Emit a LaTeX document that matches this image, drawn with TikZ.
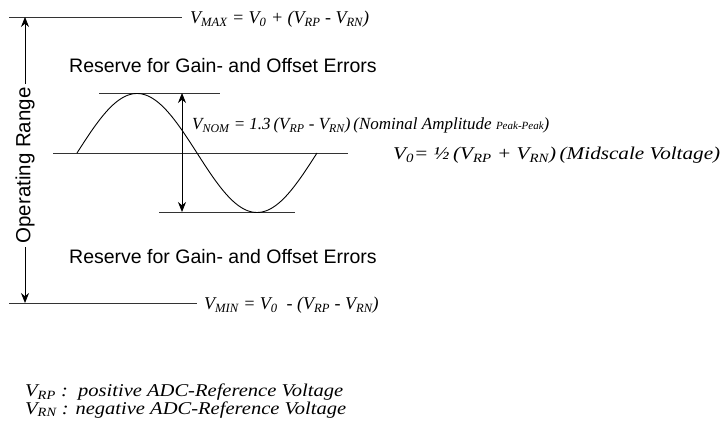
\documentclass[tikz,border=0pt]{standalone}
\usepackage{fontspec}
\setmainfont{Liberation Serif}
\setsansfont{Liberation Sans}
\usetikzlibrary{arrows.meta}
\newcommand\sbs[1]{\textsubscript{#1}}
\begin{document}
\begin{tikzpicture}[x=1pt,y=-1pt,
  lbl/.style={font=\itshape\fontsize{18}{20}\selectfont, inner sep=0pt},
  nom/.style={font=\itshape\fontsize{17}{19}\selectfont, inner sep=0pt},
  leg/.style={font=\itshape\fontsize{18}{20}\selectfont, inner sep=0pt},
  sans/.style={font=\sffamily\fontsize{19.5}{22}\selectfont, inner sep=0pt},
  ln/.style={line width=0.9pt, draw=black!80},
  arr/.style={line width=0.9pt, draw=black, -{Stealth[length=10pt,width=8pt]}},
  darr/.style={line width=0.9pt, draw=black, {Stealth[length=10pt,width=8pt]}-{Stealth[length=10pt,width=8pt]}},
]
\useasboundingbox (0,0) rectangle (726,430);
% outer range lines
\coordinate (tl) at (9,17);
\coordinate (tr) at (182,17);
\coordinate (bl) at (9,303);
\coordinate (br) at (197,303);
\draw[ln] (tl) -- (tr);
\draw[ln] (bl) -- (br);
\node[lbl, anchor=base west] (vmax) at (190,24) {V\sbs{MAX} = V\sbs{0} + (V\sbs{RP} - V\sbs{RN})};
\node[lbl, anchor=base west] (vmin) at (204,310) {V\sbs{MIN} = V\sbs{0}\ \ - (V\sbs{RP} - V\sbs{RN})};
% operating range
\node[sans, font=\sffamily\fontsize{20.5}{22}\selectfont, rotate=90, fill=white, inner xsep=3pt] (op) at (25,165.5) {Operating Range};
\coordinate (at) at (25,17);
\coordinate (ab) at (25,303);
\draw[arr] (op.east) -- (at);
\draw[arr] (op.west) -- (ab);
% reserve texts
\node[sans, anchor=base west] (r1) at (69,73) {Reserve for Gain- and Offset Errors};
\node[sans, anchor=base west] (r2) at (69,264) {Reserve for Gain- and Offset Errors};
% sine region lines
\coordinate (pl) at (99,93);
\coordinate (pr) at (220,93);
\coordinate (ml) at (53,153);
\coordinate (mr) at (348,153);
\coordinate (ql) at (159,212);
\coordinate (qr) at (295,212);
\draw[ln] (pl) -- (pr);
\draw[ln] (ml) -- (mr);
\draw[ln] (ql) -- (qr);
\draw[line width=0.9pt] plot[domain=77:317,samples=121,smooth] (\x,{153-59.5*sin((\x-77)*1.5)});
\coordinate (dt) at (182,93);
\coordinate (db) at (182,212);
\draw[darr] (dt) -- (db);
\node[nom, anchor=base west] (vnom) at (192,130) {V\sbs{NOM} = 1.3\,(V\sbs{RP} - V\sbs{RN})\,(Nominal Amplitude {\fontsize{11}{13}\selectfont Peak-Peak})};
\node[lbl, anchor=base west] (v0) at (393,160) {\resizebox{327pt}{\height}{V\sbs{0}= \textonehalf\,(V\sbs{RP} + V\sbs{RN})\,(Midscale Voltage)}};
% legend
\node[leg, anchor=base west] (leg1) at (25,397) {\resizebox{318pt}{\height}{V\sbs{RP} :\ \ positive ADC-Reference Voltage}};
\node[leg, anchor=base west] (leg2) at (25,414) {\resizebox{321pt}{\height}{V\sbs{RN} : negative ADC-Reference Voltage}};
\end{tikzpicture}
\end{document}
